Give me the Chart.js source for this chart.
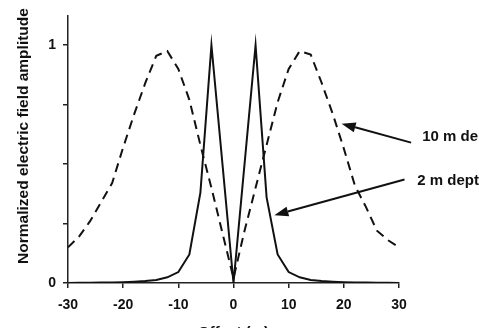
<!DOCTYPE html>
<html><head><meta charset="utf-8">
<script src="https://cdn.jsdelivr.net/npm/chart.js@4/dist/chart.umd.min.js"></script>
<style>html,body{margin:0;padding:0;background:#fff;overflow:hidden}</style>
</head><body>
<canvas id="c" width="479" height="328"></canvas>
<script>
// ---- data ----
const offsets = [-30,-28,-26,-24,-22,-20,-18,-16,-14,-12,-10,-8,-6,-4,-2,0,2,4,6,8,10,12,14,16,18,20,22,24,26,28,30];
const depth2m = [0,0.001,0.001,0.002,0.002,0.003,0.005,0.008,0.013,0.024,0.046,0.12,0.38,1.0,null,0,null,1.0,0.36,0.12,0.046,0.024,0.013,0.008,0.005,0.003,0.002,0.002,0.001,0.001,0];
const depth10m = [0.15,0.195,0.26,0.34,0.42,0.57,0.71,0.84,0.955,0.975,0.90,0.77,0.58,0.40,0.21,0.02,0.22,0.40,0.58,0.76,0.90,0.975,0.96,0.84,0.71,0.565,0.41,0.32,0.22,0.18,0.15];
const xTickValues = [-30,-20,-10,0,10,20,30];
const yTickValues = [0,0.25,0.5,0.75,1];
const yTickLabels = {0:'0',1:'1'};
const xTitle = 'Offset (m)';
const yTitle = 'Normalized electric field amplitude';
const annotationLabels = ['10 m depth','2 m depth'];
const annotationTips = [[19.6,0.67],[7.4,0.285]];
const annotationTails = [[32.2,0.59],[31.0,0.435]];
const annotationTextAt = [[34.2,0.598],[33.3,0.41]];

const FONT = "'Liberation Sans', Arial, Helvetica, sans-serif";
const INK = '#111';

const toPts = ys => offsets.map((x,i)=>({x, y: ys[i]}));

const overlay = {
  id: 'overlay',
  beforeDatasetsDraw(chart){ chart.ctx.miterLimit = 14; },
  afterDraw(chart){
    const ctx = chart.ctx, xs = chart.scales.x, ys = chart.scales.y;
    ctx.save();
    ctx.fillStyle = INK; ctx.strokeStyle = INK;
    // arrows
    annotationTips.forEach((tip,i)=>{
      const tail = annotationTails[i];
      const x1 = xs.getPixelForValue(tail[0]), y1 = ys.getPixelForValue(tail[1]);
      const x2 = xs.getPixelForValue(tip[0]), y2 = ys.getPixelForValue(tip[1]);
      const a = Math.atan2(y2-y1, x2-x1);
      const L = 14, W = 5;
      const bx = x2 - L*Math.cos(a), by = y2 - L*Math.sin(a);
      ctx.lineWidth = 2;
      ctx.beginPath(); ctx.moveTo(x1,y1); ctx.lineTo(bx,by); ctx.stroke();
      ctx.beginPath();
      ctx.moveTo(x2,y2);
      ctx.lineTo(bx + W*Math.sin(a), by - W*Math.cos(a));
      ctx.lineTo(bx - W*Math.sin(a), by + W*Math.cos(a));
      ctx.closePath(); ctx.fill();
      const t = annotationTextAt[i];
      ctx.font = 'bold 15px ' + FONT;
      ctx.textAlign = 'left'; ctx.textBaseline = 'alphabetic';
      ctx.fillText(annotationLabels[i], xs.getPixelForValue(t[0]), ys.getPixelForValue(t[1]));
    });
    // y title
    ctx.save();
    ctx.translate(28, 136);
    ctx.rotate(-Math.PI/2);
    ctx.font = 'bold 15.5px ' + FONT;
    ctx.textAlign = 'center'; ctx.textBaseline = 'alphabetic';
    ctx.fillText(yTitle, 0, 0);
    ctx.restore();
    // x title (mostly below the visible area, as in reference)
    ctx.font = 'bold 15px ' + FONT;
    ctx.textAlign = 'center'; ctx.textBaseline = 'alphabetic';
    ctx.fillText(xTitle, (chart.chartArea.left+chart.chartArea.right)/2, 337);
    ctx.restore();
  }
};

new Chart(document.getElementById('c'), {
  type: 'line',
  data: {
    datasets: [
      { label: '2 m depth', data: toPts(depth2m), borderColor: INK, borderWidth: 2, pointRadius: 0, tension: 0, spanGaps: true, fill: false },
      { label: '10 m depth', data: toPts(depth10m), borderColor: INK, borderWidth: 2, borderDash: [9,6], pointRadius: 0, tension: 0, fill: false }
    ]
  },
  options: {
    responsive: false, animation: false, devicePixelRatio: 1,
    layout: { padding: { top: 14, right: 80, left: 0, bottom: 0 } },
    plugins: { legend: { display: false }, tooltip: { enabled: false } },
    scales: {
      x: {
        type: 'linear', min: -30, max: 30,
        afterBuildTicks: s => { s.ticks = xTickValues.map(v=>({value:v})); },
        afterFit: s => { s.height = 45; },
        grid: { display: true, drawOnChartArea: false, drawTicks: true, tickLength: 5, color: '#222', lineWidth: 1.5 },
        border: { display: true, color: '#222', width: 1.5 },
        ticks: { font: { size: 14, weight: 'bold', family: FONT }, color: INK, padding: 9, maxRotation: 0, autoSkip: false }
      },
      y: {
        type: 'linear', min: 0, max: 1.125,
        afterBuildTicks: s => { s.ticks = yTickValues.map(v=>({value:v})); },
        afterFit: s => { s.width = 68; },
        grid: { display: true, drawOnChartArea: false, drawTicks: true, tickLength: 5, color: '#222', lineWidth: 1.5 },
        border: { display: true, color: '#222', width: 1.5 },
        ticks: { font: { size: 14, weight: 'bold', family: FONT }, color: INK, padding: 7, autoSkip: false,
                 callback: v => (yTickLabels[v] !== undefined ? yTickLabels[v] : '') }
      }
    }
  },
  plugins: [overlay]
});
</script>
</body></html>
